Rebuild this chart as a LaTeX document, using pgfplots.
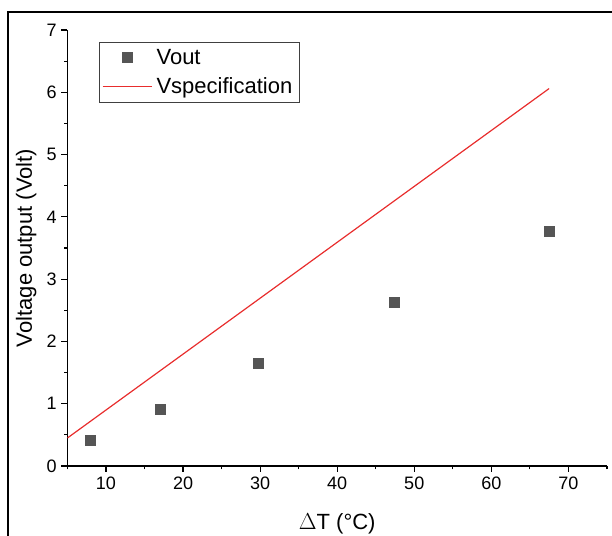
\documentclass[border=0pt]{standalone}
\usepackage{pgfplots}
\pgfplotsset{compat=1.18}
\usepackage{fontspec}
\setmainfont{Liberation Sans}
\definecolor{specred}{RGB}{232,45,45}
\definecolor{markgray}{RGB}{85,85,85}
\begin{document}
\begin{tikzpicture}
\useasboundingbox (-50.6pt,-52.5pt) rectangle (408.4pt,349.5pt);
\clip (-50.6pt,-52.5pt) rectangle (408.4pt,349.5pt);
\draw[line width=1.5pt] (-44.6pt,340.5pt) rectangle (420pt,-70pt);
\begin{axis}[
  at={(0,0)}, anchor=south west,
  scale only axis, width=404.6pt, height=327pt,
  xmin=5, xmax=75, ymin=0, ymax=7,
  axis x line*=bottom, axis y line*=left,
  axis line style={line width=0.9pt},
  tick align=outside,
  xtick={10,20,...,70}, ytick={0,1,...,7},
  minor xtick={5,15,...,75}, minor ytick={0.5,1.5,...,6.5},
  major tick length=4.5pt, minor tick length=2.5pt,
  every tick/.style={line width=0.9pt, black},
  /pgf/number format/assume math mode=true,
  tick label style={font=\fontsize{13.5}{15}\selectfont},
  xlabel={$\Delta$T (°C)}, ylabel={Voltage output (Volt)},
  every axis x label/.style={at={(axis description cs:0.5,-0.1330)}, anchor=center, font=\fontsize{16.5}{19}\selectfont},
  every axis y label/.style={at={(axis description cs:-0.0766,0.5)}, rotate=90, anchor=center, font=\fontsize{16.5}{19}\selectfont},
  legend style={at={(axis description cs:0.0584,0.9725)}, anchor=north west,
    draw=black!75, line width=0.6pt, font=\fontsize{16.5}{19}\selectfont,
    inner xsep=2pt, inner ysep=3pt, row sep=4.5pt,
    nodes={inner xsep=3pt}},
  legend cell align=left,
  legend image code/.code={\draw[mark repeat=2,mark phase=2,#1] plot coordinates {(0pt,0pt) (18.5pt,0pt) (37pt,0pt)};},
]
\addplot[only marks, mark=square*, mark size=3.75pt, markgray, mark options={fill=markgray, draw=markgray}]
  coordinates {(7.9,0.42) (17.1,0.915) (29.75,1.645) (47.35,2.635) (67.5,3.765)};
\addlegendentry{Vout}
\addplot[specred, line width=0.9pt, no marks]
  coordinates {(5,0.45) (67.5,6.06)};
\addlegendentry{Vspecification}
\end{axis}
\end{tikzpicture}
\end{document}
